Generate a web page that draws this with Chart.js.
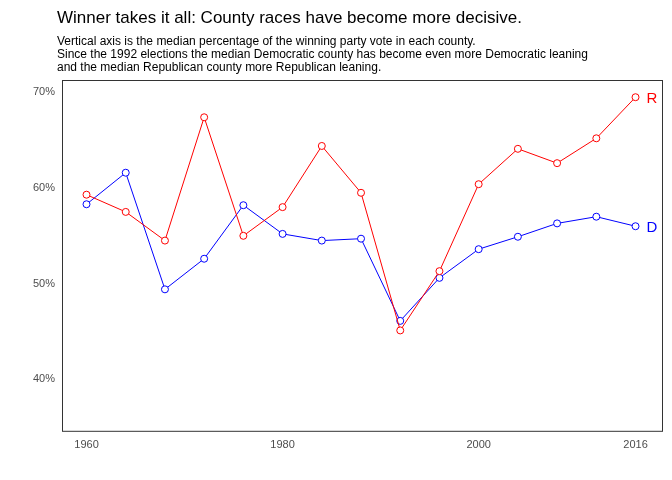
<!DOCTYPE html>
<html>
<head>
<script src="https://cdn.jsdelivr.net/npm/chart.js@4"></script>
<style>body{margin:0;background:#fff}#wrap{width:672px;height:480px}</style>
</head>
<body>
<div id="wrap"><canvas id="c"></canvas></div>
<script>
const years = [1960,1964,1968,1972,1976,1980,1984,1988,1992,1996,2000,2004,2008,2012,2016];
const repValues = [59.3,57.5,54.5,67.4,55.0,58.0,64.4,59.5,45.1,51.3,60.4,64.1,62.6,65.2,69.5];
const demValues = [58.3,61.6,49.4,52.6,58.2,55.2,54.5,54.7,46.1,50.6,53.6,54.9,56.3,57.0,56.0];
const xTicks = [1960,1980,2000,2016];
const yTicks = [40,50,60,70];
const titleText = 'Winner takes it all: County races have become more decisive.';
const subtitleLines = ['Vertical axis is the median percentage of the winning party vote in each county.',
    'Since the 1992 elections the median Democratic county has become even more Democratic leaning',
    'and the median Republican county more Republican leaning.'];

const font = 'Arial, "Liberation Sans", sans-serif';

// title, subtitle, end labels and panel frame
const decorations = {
    id: 'decorations',
    afterDatasetsDraw(chart) {
        const ctx = chart.ctx;
        ctx.save();
        ctx.textBaseline = 'alphabetic';
        ctx.fillStyle = '#000';
        ctx.font = '17px ' + font;
        ctx.fillText(titleText, 57, 23);
        ctx.font = '12px ' + font;
        subtitleLines.forEach((l, i) => ctx.fillText(l, 57, 45 + i * 13));

        ctx.font = '15px ' + font;
        ctx.textBaseline = 'middle';
        chart.data.datasets.forEach((ds, i) => {
            const pt = chart.getDatasetMeta(i).data[ds.data.length - 1];
            ctx.fillStyle = ds.borderColor;
            ctx.fillText(ds.label, pt.x + 11, pt.y + 2);
        });
        const a = chart.chartArea;
        ctx.strokeStyle = '#333';
        ctx.lineWidth = 1;
        ctx.strokeRect(a.left + 0.5, a.top + 0.5, a.right - a.left, a.bottom - a.top);
        ctx.restore();
    }
};

function series(label, vals, color) {
    return {
        label: label,
        data: years.map((y, i) => ({ x: y, y: vals[i] })),
        borderColor: color,
        backgroundColor: '#fff',
        borderWidth: 1,
        pointRadius: 3.5,
        pointBorderWidth: 1,
        tension: 0
    };
}

new Chart(document.getElementById('c'), {
    type: 'line',
    data: { datasets: [series('R', repValues, '#ff0000'), series('D', demValues, '#0000ff')] },
    plugins: [decorations],
    options: {
        responsive: true,
        maintainAspectRatio: false,
        animation: false,
        layout: { padding: { left: 0, right: 10, top: 80, bottom: 24 } },
        plugins: { legend: { display: false }, tooltip: { enabled: false } },
        scales: {
            x: {
                type: 'linear', min: 1957.5, max: 2018.7,
                afterBuildTicks: s => { s.ticks = xTicks.map(v => ({ value: v })); },
                grid: { display: false, tickLength: 4 },
                border: { display: false },
                ticks: { color: '#4d4d4d', font: { family: font, size: 11 }, maxRotation: 0, padding: 4, callback: v => String(v) }
            },
            y: {
                min: 34.6, max: 71.3,
                afterBuildTicks: s => { s.ticks = yTicks.map(v => ({ value: v })); },
                afterFit: s => { s.width = 62; },
                grid: { display: false, tickLength: 4 },
                border: { display: false },
                ticks: { color: '#4d4d4d', font: { family: font, size: 11 }, callback: v => v + '%' }
            }
        }
    }
});
</script>
</body>
</html>
